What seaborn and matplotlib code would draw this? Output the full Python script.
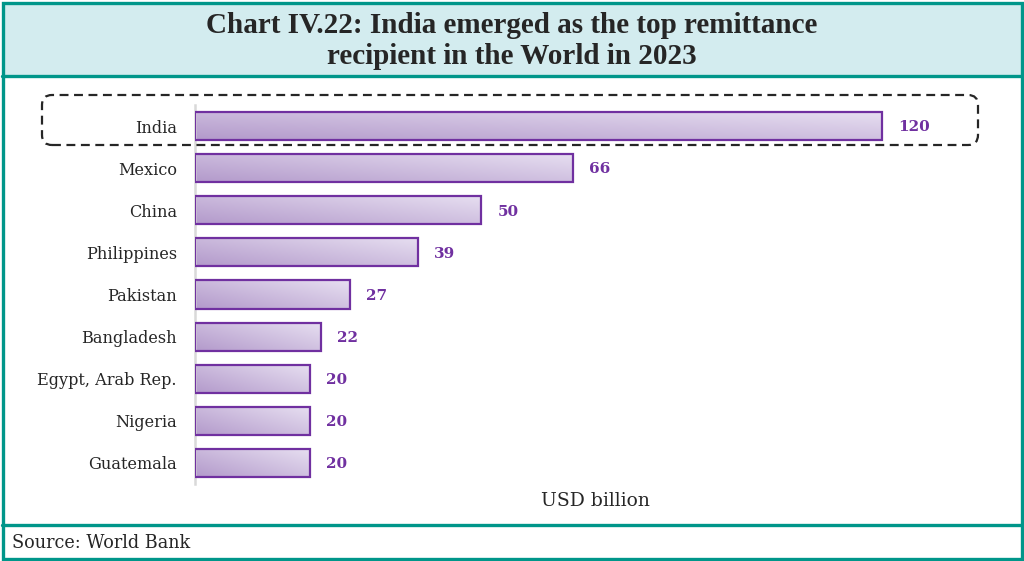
import numpy as np
import pandas as pd
import matplotlib
matplotlib.use("Agg")
import matplotlib.pyplot as plt
import seaborn as sns
from matplotlib.patches import FancyBboxPatch, Rectangle
from matplotlib.colors import to_rgb

countries = ["India", "Mexico", "China", "Philippines", "Pakistan", "Bangladesh",
             "Egypt, Arab Rep.", "Nigeria", "Guatemala"]
values = [120, 66, 50, 39, 27, 22, 20, 20, 20]
title_lines = "Chart IV.22: India emerged as the top remittance\nrecipient in the World in 2023"
x_label = "USD billion"
source = "Source: World Bank"

sns.set_theme(style="white")
plt.rcParams["font.family"] = ["DejaVu Serif", "Liberation Serif"]

W, H = 1024, 561
fig = plt.figure(figsize=(W / 100, H / 100), dpi=100)
fig.patch.set_facecolor("white")

def px(x, y):
    return x / W, 1 - y / H

teal = "#00968A"
purple = "#7030A0"
txt = "#262626"

# title band
fig.patches.append(Rectangle(px(3, 75), (W - 6) / W, 72 / H, transform=fig.transFigure,
                             facecolor="#D3ECEF", edgecolor="none", zorder=0))
# outer border
fig.patches.append(Rectangle(px(2.5, 558.5), (W - 5) / W, (H - 5) / H, transform=fig.transFigure,
                             facecolor="none", edgecolor=teal, linewidth=2.4, zorder=5))
# separators
fig.add_artist(plt.Line2D([2 / W, 1 - 2 / W], [1 - 76 / H] * 2, transform=fig.transFigure,
                          color=teal, linewidth=2.4))
fig.add_artist(plt.Line2D([2 / W, 1 - 2 / W], [1 - 525 / H] * 2, transform=fig.transFigure,
                          color=teal, linewidth=2.4))

fig.text(0.5, 1 - 41 / H, title_lines, ha="center", va="center", fontsize=21,
         fontweight="bold", color=txt, linespacing=1.16, family="Liberation Serif")
fig.text(12 / W, 1 - 543 / H, source, ha="left", va="center", fontsize=12.7, color=txt)

# axes
left, right = 195, 996.5
top, bottom = 105, 484
ax = fig.add_axes([left / W, 1 - bottom / H, (right - left) / W, (bottom - top) / H])
ax.set_facecolor("none")

df = pd.DataFrame({"country": countries, "value": values})
sns.barplot(data=df, y="country", x="value", orient="h", ax=ax, width=0.67,
            color="#CDBDE0", edgecolor=purple, linewidth=1.6, saturation=1)

dark = np.array(to_rgb("#B39ACB"))
light = np.array(to_rgb("#E7DFF1"))
nx, ny = 200, 30
xf = np.linspace(0, 1, nx)[None, :]
yf = np.linspace(1, 0, ny)[:, None]  # row 0 = visual top
for p in ax.patches:
    x0, y0, w, h = p.get_x(), p.get_y(), p.get_width(), p.get_height()
    t = np.clip(0.55 * xf + 0.45 * yf, 0, 1)
    img = dark[None, None, :] * (1 - t[..., None]) + light[None, None, :] * t[..., None]
    im = ax.imshow(img, extent=[x0, x0 + w, y0, y0 + h], origin="lower", aspect="auto",
                   zorder=2, interpolation="bilinear")
    im.set_clip_path(p)
    p.set_facecolor("none")
    p.set_zorder(3)

for i, v in enumerate(values):
    ax.text(v + 2.8, i + 0.03, f"{v}", ha="left", va="center", fontsize=11,
            fontweight="bold", color=purple)

ax.set_xlim(0, 140)
ax.set_ylim(8.5, -0.5)
ax.set_xlabel("")
ax.set_ylabel("")
ax.set_xticks([])
ax.tick_params(axis="y", length=0, pad=13, labelsize=11.6, labelcolor=txt)
for lab in ax.get_yticklabels():
    lab.set_va("center_baseline")
for s in ["top", "right", "bottom"]:
    ax.spines[s].set_visible(False)
ax.spines["left"].set_color("#D9D9D9")
ax.spines["left"].set_linewidth(1.8)

fig.text(595 / W, 1 - 501 / H, x_label, ha="center", va="center", fontsize=13.5, color=txt)

# dashed rounded highlight box around India (in inches)
box = FancyBboxPatch((42 / 100, (H - 145) / 100), (978 - 42) / 100, 50 / 100,
                     boxstyle="round,pad=0,rounding_size=0.1",
                     transform=fig.dpi_scale_trans, facecolor="none",
                     edgecolor=txt, linewidth=1.6, linestyle=(0, (4, 2.5)), zorder=6)
fig.patches.append(box)

fig.savefig("out.png", dpi=100)
